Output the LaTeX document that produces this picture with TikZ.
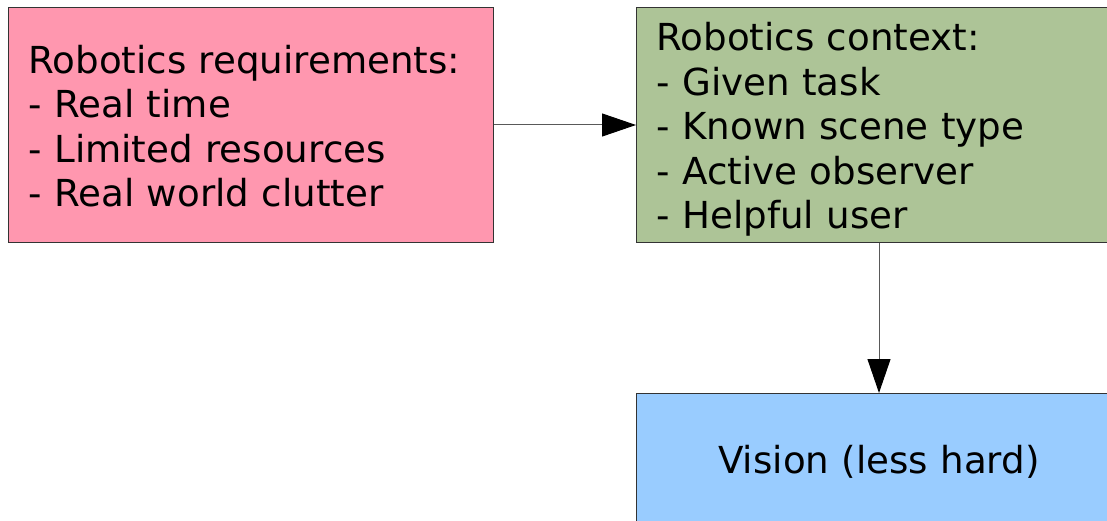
\documentclass[tikz,border=0pt]{standalone}
\usepackage{fontspec}
\setmainfont{DejaVu Sans}
\usetikzlibrary{arrows.meta}
\definecolor{reqpink}{HTML}{FF97AF}
\definecolor{ctxgreen}{HTML}{ADC497}
\definecolor{visblue}{HTML}{99CCFF}
\definecolor{edge}{HTML}{333333}
\tikzset{
  box/.style={draw=edge, line width=1pt, anchor=north west, minimum width=485pt,
    inner xsep=20pt, inner ysep=0pt, text width=445pt, align=left,
    font=\fontsize{37.2}{44.5}\selectfont},
  link/.style={draw=black!65, line width=1pt,
    -{Triangle[length=34pt,width=23pt,fill=black,color=black]}},
}
% a left-aligned list, pushed down by #1
\newcommand{\padlist}[2]{\parbox{445pt}{\vspace*{#1}#2}}
\begin{document}
\begin{tikzpicture}[x=1pt,y=-1pt]
\useasboundingbox (0,0) rectangle (1107,521);
\clip (0,0) rectangle (1107,521);
\node[box, fill=reqpink, minimum height=235pt] (req) at (8,7)
  {\padlist{2pt}{Robotics requirements:\\- Real time\\- Limited resources\\- Real world clutter}};
\node[box, fill=ctxgreen, minimum height=235pt] (ctx) at (636,7)
  {\padlist{9pt}{Robotics context:\\- Given task\\- Known scene type\\- Active observer\\- Helpful user}};
\node[box, fill=visblue, minimum height=137pt, align=center] (vis) at (636,393)
  {Vision (less hard)};
\draw[link] (req) -- (ctx);
\draw[link] (ctx) -- (vis);
\end{tikzpicture}
\end{document}
